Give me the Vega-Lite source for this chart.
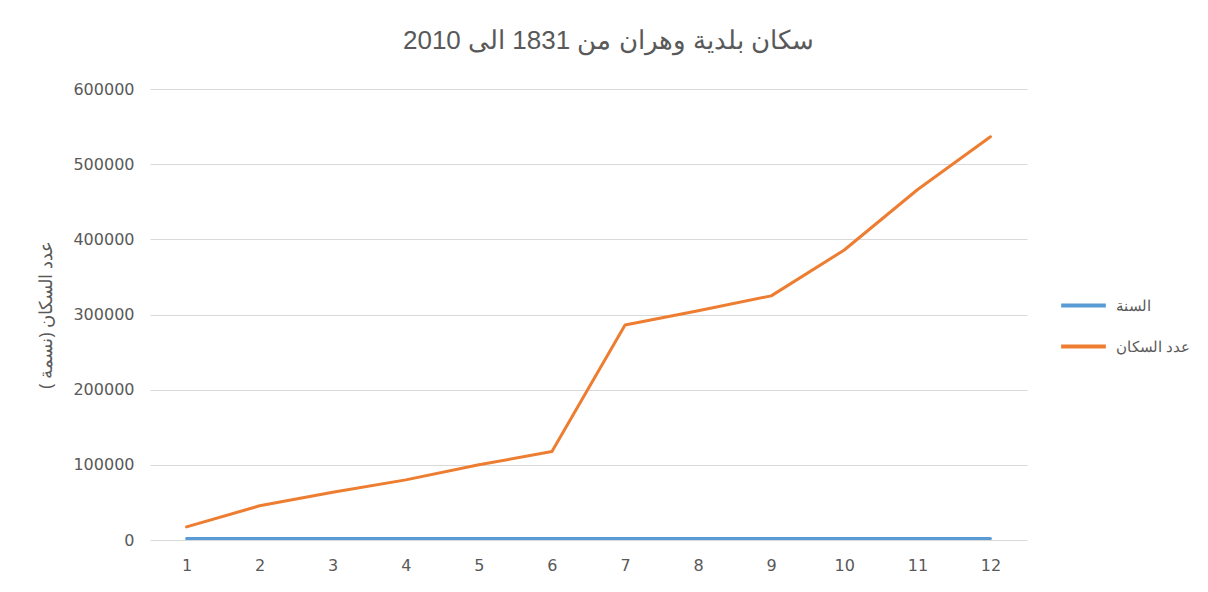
{
  "$schema": "https://vega.github.io/schema/vega-lite/v6.json",
  "autosize": {"type": "none"},
  "width": 877,
  "height": 451,
  "padding": {"left": 150, "top": 89, "right": 181, "bottom": 52},
  "background": "white",
  "title": {
    "text": "سكان بلدية وهران من 1831 الى 2010",
    "font": "Liberation Sans",
    "fontSize": 26,
    "fontWeight": "normal",
    "color": "#595959",
    "anchor": "middle",
    "frame": "group",
    "dx": 20,
    "offset": 27
  },
  "data": {
    "values": [
      {"n": 1, "series": "السنة", "value": 1831},
      {"n": 2, "series": "السنة", "value": 1856},
      {"n": 3, "series": "السنة", "value": 1872},
      {"n": 4, "series": "السنة", "value": 1886},
      {"n": 5, "series": "السنة", "value": 1901},
      {"n": 6, "series": "السنة", "value": 1911},
      {"n": 7, "series": "السنة", "value": 1954},
      {"n": 8, "series": "السنة", "value": 1966},
      {"n": 9, "series": "السنة", "value": 1977},
      {"n": 10, "series": "السنة", "value": 1987},
      {"n": 11, "series": "السنة", "value": 1998},
      {"n": 12, "series": "السنة", "value": 2010},
      {"n": 1, "series": "عدد السكان", "value": 17500},
      {"n": 2, "series": "عدد السكان", "value": 45500},
      {"n": 3, "series": "عدد السكان", "value": 63500},
      {"n": 4, "series": "عدد السكان", "value": 80000},
      {"n": 5, "series": "عدد السكان", "value": 100000},
      {"n": 6, "series": "عدد السكان", "value": 117700},
      {"n": 7, "series": "عدد السكان", "value": 286000},
      {"n": 8, "series": "عدد السكان", "value": 305000},
      {"n": 9, "series": "عدد السكان", "value": 324800},
      {"n": 10, "series": "عدد السكان", "value": 385800},
      {"n": 11, "series": "عدد السكان", "value": 466000},
      {"n": 12, "series": "عدد السكان", "value": 536500}
    ]
  },
  "mark": {"type": "line", "strokeWidth": 3, "strokeCap": "round", "strokeJoin": "round"},
  "encoding": {
    "x": {
      "field": "n",
      "type": "ordinal",
      "scale": {"type": "point", "padding": 0.5},
      "axis": {
        "title": null,
        "labelAngle": 0,
        "ticks": false,
        "domain": false,
        "grid": false,
        "labelColor": "#595959",
        "labelFont": "DejaVu Sans",
        "labelFontSize": 16,
        "labelPadding": 17
      }
    },
    "y": {
      "field": "value",
      "type": "quantitative",
      "scale": {"domain": [0, 600000], "nice": false},
      "axis": {
        "title": "عدد السكان (نسمة )\u200f",
        "titleFont": "Open Sans",
        "titleFontSize": 18,
        "titleFontWeight": "normal",
        "titleColor": "#595959",
        "titlePadding": 17,
        "values": [0, 100000, 200000, 300000, 400000, 500000, 600000],
        "format": "d",
        "ticks": false,
        "domain": false,
        "grid": true,
        "gridColor": "#d9d9d9",
        "gridWidth": 1,
        "labelColor": "#595959",
        "labelFont": "DejaVu Sans",
        "labelFontSize": 16,
        "labelPadding": 16
      }
    },
    "color": {
      "field": "series",
      "type": "nominal",
      "scale": {"domain": ["السنة", "عدد السكان"], "range": ["#5b9bd5", "#ed7d31"]},
      "legend": {
        "title": null,
        "orient": "none",
        "legendX": 909,
        "legendY": 192,
        "symbolType": "stroke",
        "symbolSize": 2000,
        "symbolStrokeWidth": 4,
        "labelFont": "Open Sans",
        "labelFontSize": 15,
        "labelColor": "#595959",
        "rowPadding": 8,
        "labelOffset": 8
      }
    }
  },
  "config": {"view": {"stroke": null}}
}
